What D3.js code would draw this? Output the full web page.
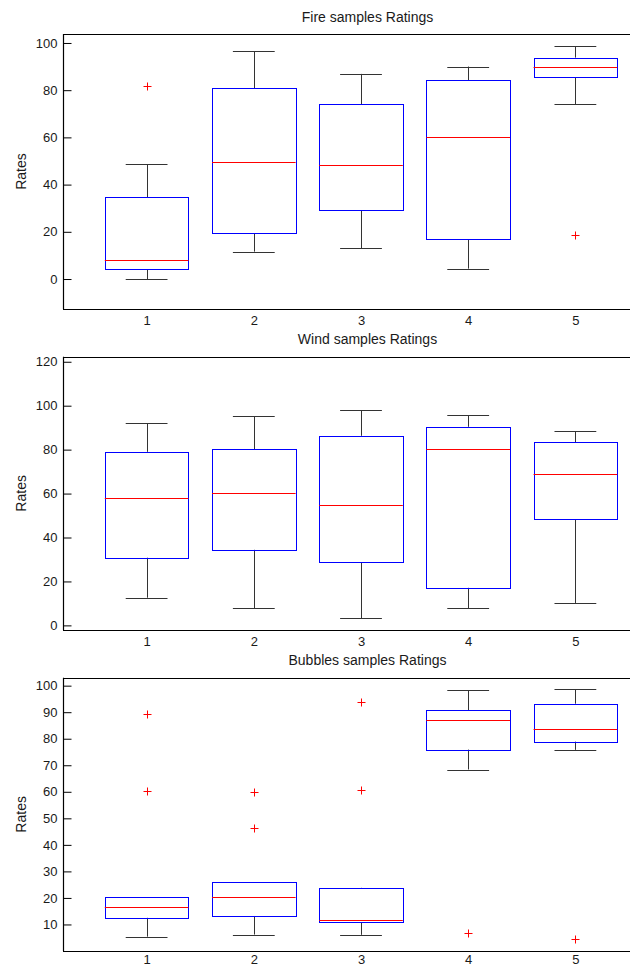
<!DOCTYPE html>
<html>
<head>
<meta charset="utf-8">
<script src="https://cdn.jsdelivr.net/npm/d3@7/dist/d3.min.js"></script>
<style>
  body { margin: 0; background: #fff; }
  svg { display: block; }
  text { font-family: "Liberation Sans", Arial, sans-serif; fill: #1a1a1a; }
</style>
</head>
<body>
<script>
// groups on the x axis
const categories = [1, 2, 3, 4, 5];

// Fire samples
const fireLow = [0, 11.6, 13.1, 4.4, 74.0];
const fireQ1 = [4.2, 19.4, 29.2, 16.8, 85.5];
const fireMedian = [8.2, 49.7, 48.2, 60.0, 89.7];
const fireQ3 = [34.6, 80.9, 74.0, 84.3, 93.8];
const fireHigh = [48.6, 96.5, 86.9, 90.0, 98.7];
const fireOutliers = [[81.9], [], [], [], [18.8]];
const fireTicks = [0, 20, 40, 60, 80, 100];

// Wind samples
const windLow = [12.6, 7.7, 3.2, 7.7, 10.2];
const windQ1 = [30.8, 34.4, 28.8, 17.1, 48.2];
const windMedian = [57.9, 60.1, 54.8, 80.4, 68.9];
const windQ3 = [79.0, 80.2, 86.3, 90.4, 83.4];
const windHigh = [92.1, 95.3, 97.9, 95.7, 88.4];
const windOutliers = [[], [], [], [], []];
const windTicks = [0, 20, 40, 60, 80, 100, 120];

// Bubbles samples
const bubblesLow = [5.4, 6.2, 6.1, 68.4, 75.8];
const bubblesQ1 = [12.5, 13.2, 10.8, 75.9, 78.9];
const bubblesMedian = [16.7, 20.4, 11.7, 87.2, 83.6];
const bubblesQ3 = [20.4, 26.1, 23.7, 90.7, 93.2];
const bubblesHigh = [20.4, 26.1, 23.8, 98.3, 98.6];
const bubblesOutliers = [[89.4, 60.3], [59.8, 46.5], [93.8, 60.6], [6.6], [4.6]];
const bubblesTicks = [10, 20, 30, 40, 50, 60, 70, 80, 90, 100];

const W = 630, H = 967;
const left = 63;

const svg = d3.select("body").append("svg")
    .attr("width", W)
    .attr("height", H);

// shared x scale (the source figure is cropped on the right)
const x = d3.scaleLinear().domain([0.22, 5.78]).range([left, 659]);
const boxHalf = 0.39, capHalf = 0.195;

const panels = [
  { title: "Fire samples Ratings", top: 34, bottom: 309, domain: [-12.7, 103.8], ticks: fireTicks, pad: 7,
    low: fireLow, q1: fireQ1, med: fireMedian, q3: fireQ3, high: fireHigh, out: fireOutliers },
  { title: "Wind samples Ratings", top: 356.7, bottom: 630, domain: [-2.1, 122.3], ticks: windTicks, pad: 7,
    low: windLow, q1: windQ1, med: windMedian, q3: windQ3, high: windHigh, out: windOutliers },
  { title: "Bubbles samples Ratings", top: 677.7, bottom: 951, domain: [0, 103], ticks: bubblesTicks, pad: 4,
    low: bubblesLow, q1: bubblesQ1, med: bubblesMedian, q3: bubblesQ3, high: bubblesHigh, out: bubblesOutliers }
];

panels.forEach(function (p) {
  const y = d3.scaleLinear().domain(p.domain).range([p.bottom, p.top]);
  const g = svg.append("g");

  const rows = categories.map(function (c, i) {
    return { c: c, low: p.low[i], q1: p.q1[i], med: p.med[i], q3: p.q3[i], high: p.high[i], out: p.out[i] };
  });

  // frame lines
  g.append("line").attr("x1", left).attr("x2", W).attr("y1", Math.round(p.top) + 0.5).attr("y2", Math.round(p.top) + 0.5)
    .attr("stroke", "#000").attr("stroke-width", 1.2);
  g.append("line").attr("x1", left).attr("x2", W).attr("y1", Math.round(p.bottom) + 0.5).attr("y2", Math.round(p.bottom) + 0.5)
    .attr("stroke", "#000").attr("stroke-width", 1.2);

  // y axis with inward ticks
  const yAxis = d3.axisLeft(y).tickValues(p.ticks).tickSizeInner(-8).tickSizeOuter(0).tickPadding(6);
  const ya = g.append("g").attr("transform", "translate(" + (left + 0.5) + ",0)").call(yAxis);
  ya.select(".domain").attr("stroke", "#000").attr("stroke-width", 1.2)
    .attr("d", "M0," + p.top + "V" + p.bottom);
  ya.selectAll(".tick line").attr("stroke", "#000");
  ya.selectAll("text").attr("font-size", 13).attr("font-family", "Liberation Sans, Arial, sans-serif").attr("fill", "#1a1a1a");

  // x axis labels
  const xAxis = d3.axisBottom(x).tickValues(categories).tickFormat(d3.format("d")).tickSize(0).tickPadding(p.pad);
  const xa = g.append("g").attr("transform", "translate(0," + p.bottom + ")").call(xAxis);
  xa.select(".domain").remove();
  xa.selectAll("text").attr("font-size", 13).attr("font-family", "Liberation Sans, Arial, sans-serif").attr("fill", "#1a1a1a");

  // title and y label
  g.append("text").attr("x", 367.5).attr("y", p.top - 12.5).attr("text-anchor", "middle")
    .attr("font-size", 14).text(p.title);
  g.append("text").attr("transform", "translate(26," + ((p.top + p.bottom) / 2) + ") rotate(-90)")
    .attr("text-anchor", "middle").attr("font-size", 14).text("Rates");

  const bx = g.selectAll(".bx").data(rows).enter().append("g").attr("class", "bx");

  // whiskers
  bx.append("line").attr("x1", function (d) { return Math.round(x(d.c)) + 0.5; })
    .attr("x2", function (d) { return Math.round(x(d.c)) + 0.5; })
    .attr("y1", function (d) { return y(d.high); }).attr("y2", function (d) { return y(d.q3); })
    .attr("stroke", "#333");
  bx.append("line").attr("x1", function (d) { return Math.round(x(d.c)) + 0.5; })
    .attr("x2", function (d) { return Math.round(x(d.c)) + 0.5; })
    .attr("y1", function (d) { return y(d.low); }).attr("y2", function (d) { return y(d.q1); })
    .attr("stroke", "#333");
  // caps
  ["high", "low"].forEach(function (k) {
    bx.append("line").attr("x1", function (d) { return x(d.c - capHalf); })
      .attr("x2", function (d) { return x(d.c + capHalf); })
      .attr("y1", function (d) { return Math.round(y(d[k])) + 0.5; })
      .attr("y2", function (d) { return Math.round(y(d[k])) + 0.5; })
      .attr("stroke", "#333");
  });

  // boxes
  bx.append("rect")
    .attr("x", function (d) { return Math.round(x(d.c - boxHalf)) + 0.5; })
    .attr("width", function (d) { return Math.round(x(d.c + boxHalf)) - Math.round(x(d.c - boxHalf)); })
    .attr("y", function (d) { return Math.round(y(d.q3)) + 0.5; })
    .attr("height", function (d) { return Math.round(y(d.q1)) - Math.round(y(d.q3)); })
    .attr("fill", "none").attr("stroke", "#0000ff");

  // medians
  bx.append("line").attr("x1", function (d) { return x(d.c - boxHalf); })
    .attr("x2", function (d) { return x(d.c + boxHalf); })
    .attr("y1", function (d) { return Math.round(y(d.med)) + 0.5; })
    .attr("y2", function (d) { return Math.round(y(d.med)) + 0.5; })
    .attr("stroke", "#ff0000");

  // outliers as red plus signs
  const pts = [];
  rows.forEach(function (d) { d.out.forEach(function (v) { pts.push({ c: d.c, v: v }); }); });
  g.selectAll(".out").data(pts).enter().append("path").attr("class", "out")
    .attr("d", function (d) {
      const cx = Math.round(x(d.c)) + 0.5, cy = Math.round(y(d.v)) + 0.5;
      return "M" + (cx - 4) + "," + cy + "H" + (cx + 4) + "M" + cx + "," + (cy - 4) + "V" + (cy + 4);
    })
    .attr("stroke", "#ff0000").attr("fill", "none");
});
</script>
</body>
</html>
